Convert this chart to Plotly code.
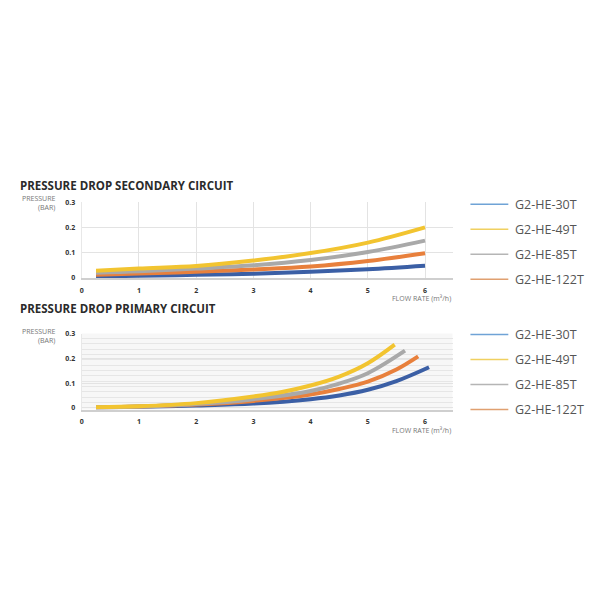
import plotly.graph_objects as go

# ---------------- data ----------------
models = ["G2-HE-30T", "G2-HE-49T", "G2-HE-85T", "G2-HE-122T"]
curve_colors = ["#3b5fa5", "#f2c430", "#a9a9a9", "#e8803c"]
legend_colors = ["#6fa3d6", "#f0d060", "#b5b5b5", "#e0a070"]

# Secondary circuit (flow m3/h -> pressure bar)
sec_x = [0.25, 1, 2, 3, 4, 5, 6]
sec_30T = [0.003, 0.006, 0.010, 0.014, 0.022, 0.032, 0.046]
sec_49T = [0.026, 0.035, 0.045, 0.067, 0.097, 0.139, 0.200]
sec_85T = [0.018, 0.024, 0.035, 0.048, 0.069, 0.101, 0.147]
sec_122T = [0.010, 0.015, 0.022, 0.031, 0.043, 0.065, 0.096]

# Primary circuit
pri_30T_x = [0.25, 1, 2, 3, 4, 4.5, 5, 5.5, 6.07]
pri_30T = [0.001, 0.004, 0.009, 0.017, 0.035, 0.050, 0.073, 0.108, 0.164]
pri_49T_x = [0.25, 1, 2, 3, 3.5, 4, 4.5, 5, 5.47]
pri_49T = [0.002, 0.006, 0.019, 0.046, 0.064, 0.090, 0.126, 0.180, 0.255]
pri_85T_x = [0.25, 1, 2, 3, 4, 4.5, 5, 5.65]
pri_85T = [0.002, 0.005, 0.015, 0.035, 0.068, 0.098, 0.140, 0.231]
pri_122T_x = [0.25, 1, 2, 3, 4, 4.5, 5, 5.5, 5.88]
pri_122T = [0.002, 0.005, 0.013, 0.028, 0.054, 0.076, 0.106, 0.155, 0.208]

x_ticks = [0, 1, 2, 3, 4, 5, 6]
y_ticks = [0, 0.1, 0.2, 0.3]
y_ticktext = ["0", "0.1", "0.2", "0.3"]

FONT = "Open Sans"
W = H = 603

fig = go.Figure()

sec_series = [sec_30T, sec_49T, sec_85T, sec_122T]
pri_series = [(pri_30T_x, pri_30T), (pri_49T_x, pri_49T), (pri_85T_x, pri_85T), (pri_122T_x, pri_122T)]
for i in [0, 3, 2, 1]:
    fig.add_trace(go.Scatter(x=sec_x, y=sec_series[i], mode="lines", name=models[i],
                             line=dict(color=curve_colors[i], width=4, shape="spline"),
                             xaxis="x", yaxis="y", showlegend=False))
for i in [0, 3, 2, 1]:
    px_, py_ = pri_series[i]
    fig.add_trace(go.Scatter(x=px_, y=py_, mode="lines", name=models[i],
                             line=dict(color=curve_colors[i], width=4, shape="spline"),
                             xaxis="x2", yaxis="y2", showlegend=False))

# geometry (pixels)
left_px, right_px = 80, 452
top1, bot1 = 200, 277
top2, bot2 = 333, 410

def fx(p):
    return p / W

def fy(p):
    return 1 - p / H

xdom = [fx(left_px), fx(right_px)]
tickfont = dict(family=FONT, size=7, color="#333333", weight="bold")
grid = "#e3e3e3"

common_x = dict(range=[0, 6.48], tickvals=x_ticks, showgrid=True, gridcolor=grid, gridwidth=1,
                zeroline=False, showline=True, linecolor="#cfcfcf", linewidth=2,
                ticks="", tickfont=tickfont, ticklabelstandoff=4, fixedrange=True)
common_y = dict(range=[-0.004, 0.3], tickvals=y_ticks, ticktext=y_ticktext, showgrid=True,
                gridcolor=grid, zeroline=False, showline=True, linecolor="#e8e8e8",
                ticks="", tickfont=tickfont, ticklabelstandoff=4, fixedrange=True)

fig.update_layout(
    width=W, height=H, margin=dict(l=0, r=0, t=0, b=0),
    paper_bgcolor="white", plot_bgcolor="white", showlegend=False,
    xaxis=dict(domain=xdom, anchor="y", **common_x),
    yaxis=dict(domain=[fy(bot1), fy(top1)], anchor="x", **common_y),
    xaxis2=dict(domain=xdom, anchor="y2", **{**common_x, "showgrid": False}),
    yaxis2=dict(domain=[fy(bot2), fy(top2)], anchor="x2",
                minor=dict(dtick=0.0215, showgrid=True, gridcolor="#e6e6e6"),
                **{**common_y, "range": [-0.007, 0.3]}),
    xaxis3=dict(overlaying="x2", anchor="y2", range=[0, 8], dtick=1, showgrid=True,
                gridcolor="#dedede", showticklabels=False, zeroline=False, showline=False,
                fixedrange=True),
)

# light background for primary chart
fig.add_shape(type="rect", xref="x2 domain", yref="y2 domain", x0=0, x1=1, y0=0, y1=1,
              fillcolor="#f7f7f7", line=dict(width=0), layer="below")

ann = []
titles = [("PRESSURE DROP SECONDARY CIRCUIT", 183), ("PRESSURE DROP PRIMARY CIRCUIT", 308)]
for t, yp in titles:
    ann.append(dict(text=t, x=fx(16), y=fy(yp), xref="paper", yref="paper", xanchor="left",
                    yanchor="middle", showarrow=False,
                    font=dict(family=FONT, size=11.5, color="#2b2b2b", weight="bold")))
for yp in [201, 335]:
    ann.append(dict(text="PRESSURE<br>(BAR)", x=fx(56), y=fy(yp), xref="paper", yref="paper",
                    xanchor="right", yanchor="middle", align="right", showarrow=False,
                    font=dict(family=FONT, size=7, color="#777777")))
for yp in [297, 431]:
    ann.append(dict(text="FLOW RATE (m³/h)", x=fx(453), y=fy(yp), xref="paper", yref="paper",
                    xanchor="right", yanchor="middle", showarrow=False,
                    font=dict(family=FONT, size=7, color="#777777")))

# legends
for y0 in [202, 334]:
    for k, m in enumerate(models):
        yp = y0 + k * 25.3
        fig.add_shape(type="line", xref="paper", yref="paper", x0=fx(470), x1=fx(508),
                      y0=fy(yp), y1=fy(yp), line=dict(color=legend_colors[k], width=1.5))
        ann.append(dict(text=m, x=fx(513), y=fy(yp), xref="paper", yref="paper",
                        xanchor="left", yanchor="middle", showarrow=False,
                        font=dict(family=FONT, size=12.5, color="#555555")))

fig.update_layout(annotations=ann)
fig.write_html("out.html", config={"displayModeBar": False},
               post_script="document.body.style.margin='0';document.body.style.padding='0';")
